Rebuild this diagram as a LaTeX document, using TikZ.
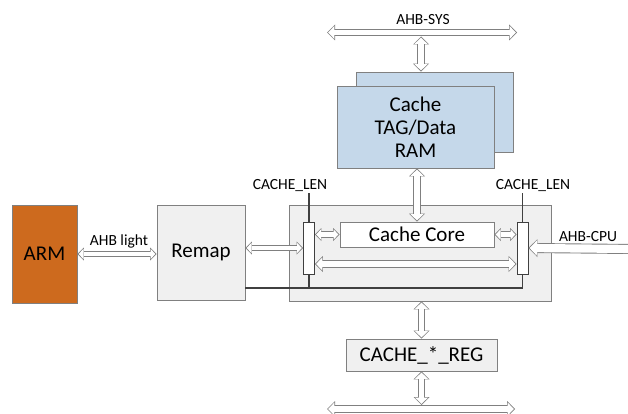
\documentclass[tikz,border=0pt]{standalone}
\usepackage{fontspec}
\setmainfont{Carlito}
\usepackage[HTML]{xcolor}
\usetikzlibrary{positioning, arrows, arrows.meta}

\definecolor{armorange}{HTML}{CD6A1E}
\definecolor{ramblue}{HTML}{C5D8EA}
\definecolor{boxgray}{HTML}{F0F0F0}
\definecolor{edgegray}{HTML}{808080}
\definecolor{linegray}{HTML}{404040}

\begin{document}
\begin{tikzpicture}[x=1pt, y=-1pt,
  block/.style={draw=edgegray, fill=boxgray, inner sep=0pt, line width=0.8pt,
    font=\fontsize{21}{23}\selectfont, align=center},
  bar/.style={draw=linegray, fill=white, line width=0.8pt, minimum width=11pt,
    minimum height=52pt, inner sep=0pt},
  headout/.tip={Triangle[length=8pt, width=16pt, line width=0pt]},
  headin/.tip={Triangle[length=6.2pt, width=13pt, line width=0pt]},
  smallout/.tip={Triangle[length=6.5pt, width=13pt, line width=0pt]},
  smallin/.tip={Triangle[length=4.9pt, width=10.2pt, line width=0pt]},
  bus/.style={draw=edgegray, line width=7.4pt, headout-headout,
    postaction={draw=white, line width=5.6pt, shorten <=1.2pt, shorten >=1.2pt, headin-headin}},
  smallbus/.style={draw=edgegray, line width=6.4pt, smallout-smallout,
    postaction={draw=white, line width=4.6pt, shorten <=1.2pt, shorten >=1.2pt, smallin-smallin}},
  busin/.style={draw=edgegray, line width=10pt, -{Triangle[length=9pt, width=18pt, line width=0pt]},
    postaction={draw=white, line width=8.2pt, shorten >=1.2pt, -{Triangle[length=7.2pt, width=15pt, line width=0pt]}}},
  lenline/.style={draw=linegray, line width=1.2pt},
  buslabel/.style={font=\fontsize{15.5}{17}\selectfont, inner sep=1pt}
]
\useasboundingbox (0,0) rectangle (628,414);

% --- AHB-SYS bus ---
\coordinate (sysL) at (327,32.5);
\coordinate (sysR) at (517,32.5);
\draw[bus] (sysL) -- (sysR);
\node[buslabel] (sys) at (423,20) {AHB-SYS};

% --- Cache TAG/Data RAM ---
\node[block, fill=ramblue, minimum width=157pt, minimum height=80pt] (ramback) at (434.5,112) {};
\node[block, fill=ramblue, minimum width=157pt, minimum height=82pt] (ram) at (415.5,127) {Cache\\TAG/Data\\RAM};
\coordinate (sysdrop) at (421,36.5);
\draw[bus] (sysdrop) -- (sysdrop |- ramback.north);

% --- ARM and Remap ---
\node[block, fill=armorange, minimum width=65pt, minimum height=98pt] (arm) at (44.5,254) {ARM};
\node[block, minimum width=88pt, minimum height=95pt] (remap) at (201,252.5) {Remap};
\draw[smallbus] (arm.east) -- (arm.east -| remap.west);
\node[buslabel] (light) at (119,241) {AHB light};

% --- Cache core with the two muxes ---
\node[block, minimum width=262pt, minimum height=96pt] (cache) at (420,253) {};
\node[block, fill=white, minimum width=154pt, minimum height=25pt] (core) at (417,234.5) {Cache Core};
\node[bar] (barL) at (309,248) {};
\node[bar] (barR) at (522.5,248) {};

\node[buslabel] (lenL) at (290,186) {CACHE\_LEN};
\node[buslabel] (lenR) at (533,186) {CACHE\_LEN};
\coordinate (lenturn) at (522.5,288);
\draw[lenline] (barL.north |- lenL.south) -- (barL.north);
\draw[lenline] (barR.north |- lenR.south) -- (barR.north);
\draw[lenline] (remap.east |- lenturn) -- (lenturn) -- (barR.south);
\draw[lenline] (barL.south) -- (barL.south |- lenturn);

\draw[smallbus] (remap.east |- barL.west) -- (barL.west);
\draw[smallbus] (barL.east |- core.west) -- (core.west);
\draw[smallbus] (core.east) -- (core.east -| barR.west);
\draw[bus] ([yshift=-16pt]barL.east) -- ([yshift=-16pt]barR.west);
\draw[bus] (core.north |- ram.south) -- (core.north);

% --- AHB-CPU input ---
\coordinate (cpu) at (634,249);
\draw[busin] (cpu) -- (barR.east);
\node[buslabel] (cpulabel) at (588,237) {AHB-CPU};

% --- Registers and lower bus ---
\node[block, minimum width=151pt, minimum height=32pt] (reg) at (421.5,355) {CACHE\_*\_REG};
\draw[bus] (cache.south -| reg.north) -- (reg.north);
\coordinate (regL) at (327,409);
\coordinate (regR) at (515,409);
\coordinate (regdrop) at (421,405);
\draw[bus] (regL) -- (regR);
\draw[bus] (reg.south) -- (reg.south |- regdrop);

\end{tikzpicture}
\end{document}
